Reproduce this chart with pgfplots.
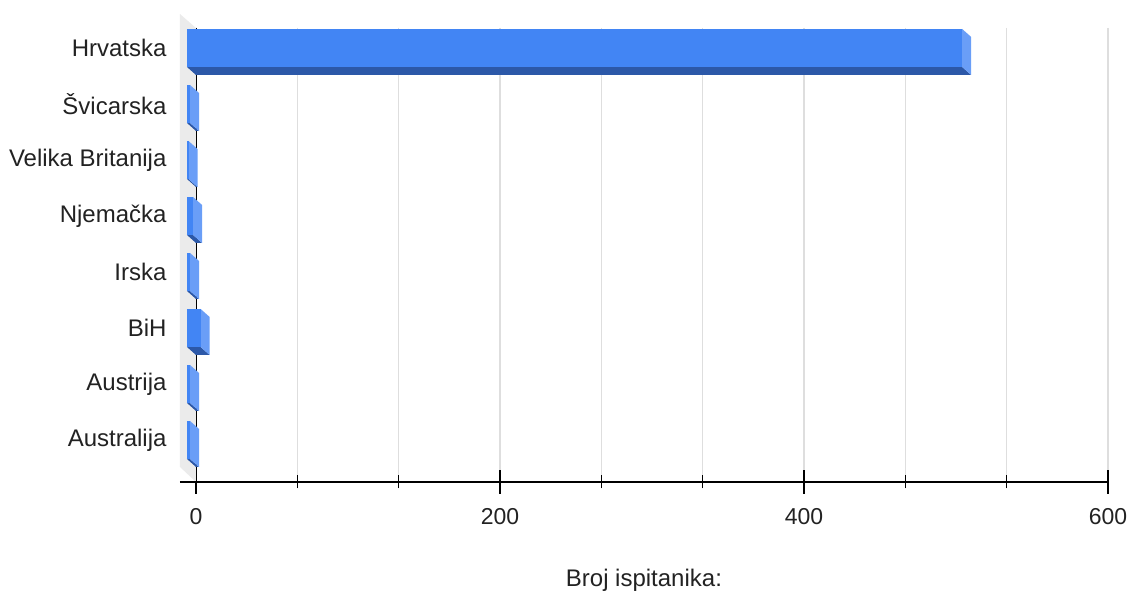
\documentclass[border=0pt]{standalone}
\usepackage{fontspec}
\setmainfont{Liberation Sans}
\usepackage{pgfplots}
\usepackage{pgfplotstable}
\pgfplotsset{compat=1.18}

\definecolor{barfront}{RGB}{66,133,244}
\definecolor{barside}{RGB}{106,158,247}
\definecolor{barbottom}{RGB}{44,88,168}
\definecolor{wallgray}{RGB}{235,235,235}
\definecolor{gridgray}{RGB}{222,222,222}
\definecolor{txt}{RGB}{34,34,34}

% 3D bar drawn as a mark: the point is the back right end of the bar
\pgfdeclareplotmark{bar3d}{%
  \pgfmathsetmacro\L{\barval*1.52}%
  % bottom face
  \pgfpathmoveto{\pgfpoint{-9-\L}{-19}}%
  \pgfpathlineto{\pgfpoint{-9}{-19}}%
  \pgfpathlineto{\pgfpoint{0}{-27}}%
  \pgfpathlineto{\pgfpoint{-\L}{-27}}%
  \pgfpathclose
  \pgfsetfillcolor{barbottom}\pgfusepath{fill}%
  % side face
  \pgfpathmoveto{\pgfpoint{-9}{19}}%
  \pgfpathlineto{\pgfpoint{0}{11}}%
  \pgfpathlineto{\pgfpoint{0}{-27}}%
  \pgfpathlineto{\pgfpoint{-9}{-19}}%
  \pgfpathclose
  \pgfsetfillcolor{barside}\pgfusepath{fill}%
  % front face
  \pgfpathrectanglecorners{\pgfpoint{-9-\L}{-19}}{\pgfpoint{-9}{19}}%
  \pgfsetfillcolor{barfront}\pgfusepath{fill}%
}

\pgfplotstableread{
cat v
0 510
1 2
2 1
3 4
4 2
5 9
6 2
7 2
}\countrydata

\begin{document}
\begin{tikzpicture}
\begin{axis}[
  x=1.52pt, y=56pt, y dir=reverse,
  xmin=0, xmax=600, ymin=-0.357, ymax=7.75,
  clip=false,
  axis x line=bottom, axis y line=left,
  axis line style={-, black, line width=1.6pt},
  xtick={0,200,400,600},
  minor x tick num=2,
  xmajorgrids, xminorgrids,
  major grid style={gridgray, line width=1.5pt},
  minor grid style={gridgray, line width=1.5pt},
  tick align=center,
  major tick length=24pt, minor tick length=13pt,
  every major tick/.append style={black, line width=1.5pt},
  every minor tick/.append style={black, line width=1.5pt},
  ytick={0,...,7},
  yticklabels={Hrvatska,Švicarska,Velika Britanija,Njemačka,Irska,BiH,Austrija,Australija},
  ytick style={draw=none},
  yticklabel style={anchor=east, xshift=-14pt, font=\fontsize{24}{28}\selectfont, text=txt},
  xticklabel style={yshift=-11pt, font=\fontsize{23}{27}\selectfont, text=txt},
  /pgf/number format/assume math mode=true,
]
% grey side wall of the 3D chart
\fill[wallgray] (axis cs:-10.53,-0.607) -- (axis cs:0,-0.357) -- (axis cs:0,7.75) -- (axis cs:-10.53,7.482) -- cycle;
\draw[black, line width=1.6pt] (axis cs:-10.53,7.75) -- (axis cs:0,7.75);

\addplot[only marks, mark=bar3d,
  visualization depends on={\thisrow{v} \as \barval}]
  table[x=v, y=cat] {\countrydata};

\node[font=\fontsize{24}{28}\selectfont, text=txt] at (axis cs:294.7,9.5) {Broj ispitanika:};

\coordinate (bbtl) at (axis cs:-128.947,-0.857);
\coordinate (bbbr) at (axis cs:614.474,9.714);
\end{axis}
\pgfresetboundingbox
\useasboundingbox (bbtl) rectangle (bbbr);
\end{tikzpicture}
\end{document}
